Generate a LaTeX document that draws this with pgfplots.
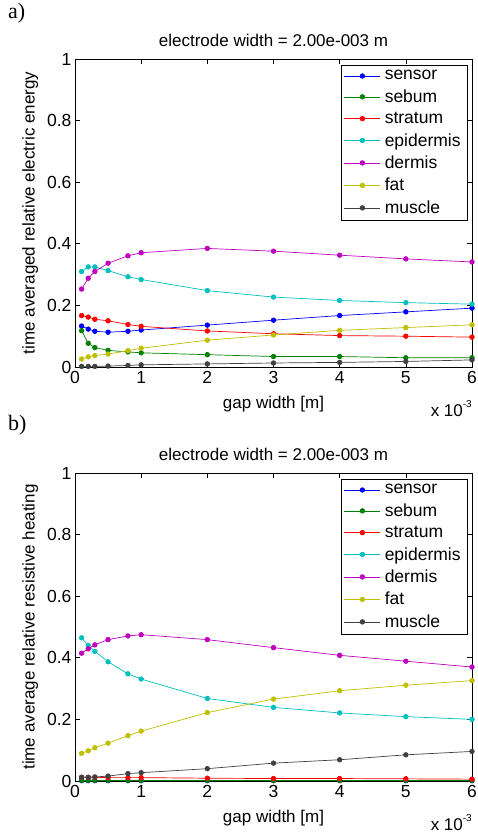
\documentclass[border=0pt]{standalone}
\usepackage{pgfplots}
\pgfplotsset{compat=1.18}
\usepackage{fontspec}
\setmainfont{Liberation Sans}
\newfontfamily\serifpanel{Liberation Serif}

% MATLAB default line colours
\definecolor{mblue}{rgb}{0,0,1}
\definecolor{mgreen}{rgb}{0,0.5,0}
\definecolor{mred}{rgb}{1,0,0}
\definecolor{mcyan}{rgb}{0,0.75,0.75}
\definecolor{mmag}{rgb}{0.75,0,0.75}
\definecolor{myel}{rgb}{0.75,0.75,0}
\definecolor{mgray}{rgb}{0.25,0.25,0.25}

\newcommand{\fs}{\fontsize{17}{19}\selectfont}

\pgfplotsset{
  panel/.style={
    anchor=south west,
    scale only axis,
    width=397pt, height=308pt,
    xmin=0, xmax=6, ymin=0, ymax=1,
    xtick={0,1,...,6},
    ytick={0,0.2,0.4,0.6,0.8,1},
    tick align=inside,
    major tick length=5pt,
    axis line style={line width=0.8pt},
    every tick/.style={black, line width=0.6pt},
    /pgf/number format/assume math mode=true,
    ticklabel style={font=\fontsize{17.5}{19}\selectfont},
    xticklabel style={yshift=-1pt},
    label style={font=\fs},
    title style={font=\fs, yshift=3pt},
    xlabel style={yshift=-5pt},
    ylabel style={yshift=2pt},
    title={electrode width = 2.00e-003 m},
    xlabel={gap width [m]},
    legend style={at={(0.99,0.98)}, anchor=north east,
      line width=0.8pt, font=\fontsize{17.5}{19}\selectfont,
      cells={anchor=west}, row sep=4.3pt, inner sep=3pt,
      nodes={inner xsep=4pt}},
    legend image code/.code={
      \draw[mark repeat=2, mark phase=2] plot coordinates {(0pt,0pt) (18pt,0pt) (36pt,0pt)};},
    every axis plot/.append style={line width=0.7pt, mark=*, mark size=2.3pt},
  },
}

\begin{document}
\begin{tikzpicture}
\path[use as bounding box] (0,0) rectangle (478pt,833pt);

% ---------------- a) ----------------
\begin{axis}[panel, name=pa, at={(75pt,466pt)},
  ylabel={time averaged relative electric energy}]
\addplot[mblue] coordinates {(0.1,0.133) (0.2,0.123) (0.3,0.116) (0.5,0.113) (0.8,0.116) (1,0.120) (2,0.136) (3,0.152) (4,0.167) (5,0.179) (6,0.191)};
\addlegendentry{sensor}
\addplot[mgreen] coordinates {(0.1,0.118) (0.2,0.077) (0.3,0.063) (0.5,0.054) (0.8,0.049) (1,0.046) (2,0.040) (3,0.034) (4,0.034) (5,0.030) (6,0.030)};
\addlegendentry{sebum}
\addplot[mred] coordinates {(0.1,0.167) (0.2,0.162) (0.3,0.155) (0.5,0.150) (0.8,0.138) (1,0.132) (2,0.117) (3,0.108) (4,0.102) (5,0.100) (6,0.097)};
\addlegendentry{stratum}
\addplot[mcyan] coordinates {(0.1,0.310) (0.2,0.325) (0.3,0.325) (0.5,0.313) (0.8,0.293) (1,0.284) (2,0.248) (3,0.227) (4,0.216) (5,0.209) (6,0.204)};
\addlegendentry{epidermis}
\addplot[mmag] coordinates {(0.1,0.253) (0.2,0.288) (0.3,0.310) (0.5,0.337) (0.8,0.361) (1,0.371) (2,0.385) (3,0.376) (4,0.363) (5,0.351) (6,0.341)};
\addlegendentry{dermis}
\addplot[myel] coordinates {(0.1,0.026) (0.2,0.033) (0.3,0.037) (0.5,0.042) (0.8,0.053) (1,0.061) (2,0.087) (3,0.104) (4,0.119) (5,0.128) (6,0.137)};
\addlegendentry{fat}
\addplot[mgray] coordinates {(0.1,0.002) (0.2,0.002) (0.3,0.002) (0.5,0.003) (0.8,0.005) (1,0.007) (2,0.010) (3,0.013) (4,0.015) (5,0.018) (6,0.023)};
\addlegendentry{muscle}
\end{axis}
\node[anchor=north east, font=\fontsize{17}{19}\selectfont, inner sep=0pt]
  at ([yshift=-33pt]pa.south east) {x 10\raisebox{1.0ex}{\fontsize{10}{11}\selectfont -3}};

% ---------------- b) ----------------
\begin{axis}[panel, name=pb, at={(75pt,52pt)},
  ylabel={time average relative resistive heating}]
\addplot[mblue] coordinates {(0.1,0.001) (0.2,0.001) (0.3,0.001) (0.5,0.001) (0.8,0.001) (1,0.001) (2,0.001) (3,0.001) (4,0.001) (5,0.001) (6,0.001)};
\addlegendentry{sensor}
\addplot[mgreen] coordinates {(0.1,0.002) (0.2,0.002) (0.3,0.002) (0.5,0.002) (0.8,0.002) (1,0.002) (2,0.002) (3,0.002) (4,0.002) (5,0.002) (6,0.002)};
\addlegendentry{sebum}
\addplot[mred] coordinates {(0.1,0.012) (0.2,0.012) (0.3,0.012) (0.5,0.011) (0.8,0.011) (1,0.011) (2,0.009) (3,0.008) (4,0.008) (5,0.007) (6,0.006)};
\addlegendentry{stratum}
\addplot[mcyan] coordinates {(0.1,0.465) (0.2,0.440) (0.3,0.421) (0.5,0.387) (0.8,0.348) (1,0.331) (2,0.268) (3,0.239) (4,0.221) (5,0.209) (6,0.200)};
\addlegendentry{epidermis}
\addplot[mmag] coordinates {(0.1,0.415) (0.2,0.429) (0.3,0.442) (0.5,0.459) (0.8,0.471) (1,0.475) (2,0.459) (3,0.433) (4,0.408) (5,0.389) (6,0.370)};
\addlegendentry{dermis}
\addplot[myel] coordinates {(0.1,0.090) (0.2,0.098) (0.3,0.108) (0.5,0.123) (0.8,0.147) (1,0.162) (2,0.222) (3,0.266) (4,0.293) (5,0.311) (6,0.326)};
\addlegendentry{fat}
\addplot[mgray] coordinates {(0.1,0.012) (0.2,0.012) (0.3,0.013) (0.5,0.016) (0.8,0.024) (1,0.027) (2,0.040) (3,0.058) (4,0.069) (5,0.085) (6,0.096)};
\addlegendentry{muscle}
\end{axis}
\node[anchor=north east, font=\fontsize{17}{19}\selectfont, inner sep=0pt]
  at ([yshift=-33pt]pb.south east) {x 10\raisebox{1.0ex}{\fontsize{10}{11}\selectfont -3}};

\node[anchor=north west, font=\serifpanel\fontsize{22}{24}\selectfont, inner sep=0pt] at (8pt,830pt) {a)};
\node[anchor=north west, font=\serifpanel\fontsize{22}{24}\selectfont, inner sep=0pt] at (8pt,418pt) {b)};
\end{tikzpicture}
\end{document}
